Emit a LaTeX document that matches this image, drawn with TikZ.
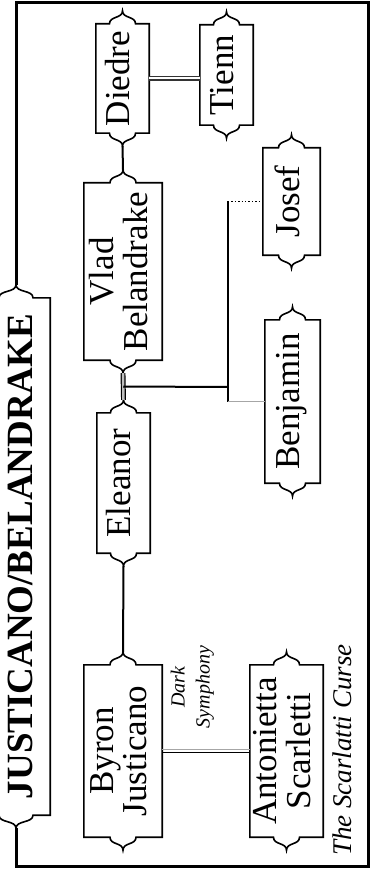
\documentclass[tikz,border=0pt]{standalone}
\usepackage{fontspec}
\setmainfont{Liberation Serif}
\usepackage{graphicx}
\usetikzlibrary{calc,positioning}

% text turned to run bottom to top
\newcommand\rot[1]{\rotatebox{90}{\begin{tabular}{@{}c@{}}#1\end{tabular}}}

\begin{document}
\begin{tikzpicture}[x=1pt,y=-1pt,
    person/.style={inner sep=0pt,font=\fontsize{35}{32}\selectfont},
    heading/.style={inner sep=0pt,font=\bfseries\fontsize{37}{40}\selectfont},
    note/.style={inner sep=0pt,font=\itshape\fontsize{20}{25}\selectfont},
    outline/.style={line width=1.6pt},
    frame/.style={line width=3pt},
    tie/.style={line width=2pt},
    wed/.style={draw=black!80,line width=1.1pt,double=white,double distance=2pt},
    wedbar/.style={draw=black,line width=1.2pt,double=black!25,double distance=2.5pt}]

    \useasboundingbox (0,0) rectangle (374,877);
    \clip (0,0) rectangle (374,877);

    % the name runs right of the box centre, the box itself runs off the page
    \node[heading,minimum width=68pt,minimum height=517pt] (title) at (16,556.5) {\hspace*{18pt}\rot{JUSTICANO/BELANDRAKE}};

    \node[person,minimum width=53pt,minimum height=109pt] (diedre) at (122.5,78.5) {\rot{Diedre}};
    \node[person,minimum width=53pt,minimum height=100pt] (tienn) at (226.5,75) {\rot{Tienn}};
    \node[person,minimum width=78pt,minimum height=177pt] (vlad) at (123,271.5) {\rot{Vlad\\Belandrake}};
    \node[person,minimum width=53pt,minimum height=140pt] (eleanor) at (123.5,483) {\rot{Eleanor}};
    \node[person,minimum width=57pt,minimum height=107pt] (josef) at (291.5,201.5) {\rot{Josef}};
    \node[person,minimum width=55pt,minimum height=163pt] (benjamin) at (292.5,401.5) {\rot{Benjamin}};
    \node[person,minimum width=78pt,minimum height=172pt] (byron) at (123,751) {\rot{Byron\\Justicano}};
    \node[person,minimum width=73pt,minimum height=172pt] (antonietta) at (286.5,751) {\rot{Antonietta\\Scarletti}};

    \node[note] (dark) at (192,687) {\rot{Dark\\Symphony}};
    \node[note,font=\itshape\fontsize{27}{30}\selectfont] (curse) at (345,750) {\rot{The Scarlatti Curse}};

    % boxes with pointed ends, tips saved as <name>-top / <name>-bot
    \foreach \n/\d in {title/17,diedre/13,tienn/13,vlad/13,eleanor/13,josef/13,benjamin/13,byron/13,antonietta/13}{
        \draw[outline] (\n.north west) -- ($(\n.north)+(-\d,0)$)
            .. controls +(0,-8) and +(0,8) .. ($(\n.north)+(0,-13)$) coordinate (\n-top)
            .. controls +(0,8) and +(0,-8) .. ($(\n.north)+(\d,0)$)
            -- (\n.north east) -- (\n.south east) -- ($(\n.south)+(\d,0)$)
            .. controls +(0,8) and +(0,-8) .. ($(\n.south)+(0,13)$) coordinate (\n-bot)
            .. controls +(0,-8) and +(0,8) .. ($(\n.south)+(-\d,0)$)
            -- (\n.south west) -- cycle;
    }

    \draw[frame] (title-top) -- (title-top |- 0,3) -- (368,3) -- (368,866) -- (title-bot |- 0,866) -- (title-bot);

    % descent
    \draw[tie] (diedre-bot) -- (vlad-top);
    \draw[tie] (eleanor-bot) -- (byron-top);

    % marriages
    \draw[wed] (diedre.east) -- (diedre.east -| tienn.west);
    \draw[wedbar] (vlad-bot) -- (eleanor-top);
    \draw[black!35,line width=1pt] ([yshift=2pt]byron.east) -- ([yshift=2pt]byron.east -| antonietta.west);
    \draw[line width=1.6pt] ([yshift=-1.5pt]byron.east) -- ([yshift=-1.5pt]byron.east -| antonietta.west);

    % children of Vlad and Eleanor
    \coordinate (kids) at (228,387);
    \draw[tie] ($(vlad-bot)!0.5!(eleanor-top)$) -- (kids);
    \draw[tie] (kids |- josef) -- (kids |- benjamin);
    \draw[line width=1.4pt,dotted] (kids |- josef) -- (josef.west);
    \draw[black!35,line width=1pt] (kids |- benjamin) -- (benjamin.west);

\end{tikzpicture}
\end{document}
